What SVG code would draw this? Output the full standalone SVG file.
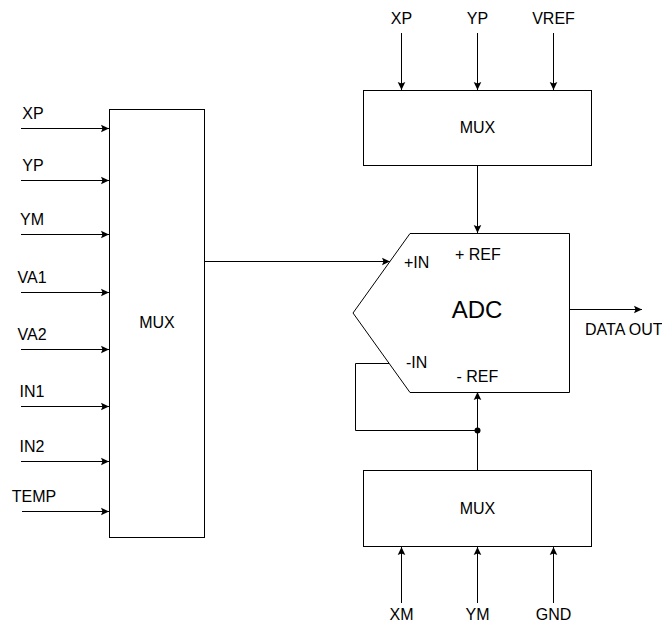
<svg xmlns="http://www.w3.org/2000/svg" width="662" height="626" viewBox="0 0 662 626">
<style>
.box{fill:#fff;stroke:#000;stroke-width:1}
.ln{fill:none;stroke:#000;stroke-width:1}
text{font-family:"Liberation Sans",Arial,sans-serif;font-size:16px;fill:#000}
.c{text-anchor:middle}
.big{font-size:24px}
</style>
<defs>
<marker id="ah" markerWidth="10" markerHeight="10" viewBox="-9 -5 10 10" refX="0" refY="0" orient="auto" markerUnits="userSpaceOnUse">
<path d="M0,0 L-8,-3.8 L-6.5,0 L-8,3.8 Z" fill="#000"/>
</marker>
</defs>
<g id="connectors">
<g class="ln" marker-end="url(#ah)">
<path d="M21,128.5 H109"/>
<path d="M21,180.5 H109"/>
<path d="M21,234.5 H109"/>
<path d="M21,292.5 H109"/>
<path d="M21,349.5 H109"/>
<path d="M21,406.5 H109"/>
<path d="M21,461.5 H109"/>
<path d="M22,511.5 H109"/>
<path d="M401.5,33 V90"/>
<path d="M477.5,33 V90"/>
<path d="M553.5,33 V90"/>
<path d="M477.5,166 V233"/>
<path d="M204,261.5 H390"/>
<path d="M569,309.5 H642"/>
<path d="M477.5,470.5 V392"/>
<path d="M401.5,603 V547"/>
<path d="M477.5,603 V547"/>
<path d="M553.5,603 V547"/>
</g>
<path class="ln" d="M389,363.5 H355.5 V430.5 H477.5"/>
<circle cx="477.5" cy="430.5" r="3" fill="#000"/>
</g>
<g id="mux-left">
<rect class="box" x="109.5" y="109.5" width="95" height="428"/>
<text class="c" x="157" y="328">MUX</text>
</g>
<g id="mux-top">
<rect class="box" x="363.5" y="90.5" width="228" height="75"/>
<text class="c" x="477.5" y="133">MUX</text>
</g>
<g id="mux-bottom">
<rect class="box" x="363.5" y="470.5" width="228" height="76"/>
<text class="c" x="477.5" y="513.5">MUX</text>
</g>
<g id="adc">
<polygon class="box" points="410,233.5 569.5,233.5 569.5,392.5 410,392.5 353,313"/>
<text class="c big" x="477" y="317.5">ADC</text>
<text x="404" y="268">+IN</text>
<text x="455" y="259.5">+ REF</text>
<text x="406" y="368">-IN</text>
<text x="456.5" y="382">- REF</text>
</g>
<g id="labels">
<text class="c" x="33" y="119">XP</text>
<text class="c" x="33" y="171">YP</text>
<text class="c" x="32" y="225">YM</text>
<text class="c" x="32" y="283">VA1</text>
<text class="c" x="32" y="340">VA2</text>
<text class="c" x="32" y="397">IN1</text>
<text class="c" x="32" y="452">IN2</text>
<text class="c" x="34" y="502">TEMP</text>
<text class="c" x="401.5" y="23.5">XP</text>
<text class="c" x="477.5" y="23.5">YP</text>
<text class="c" x="553.5" y="23.5">VREF</text>
<text class="c" x="401.5" y="620">XM</text>
<text class="c" x="477.5" y="620">YM</text>
<text class="c" x="553.5" y="620">GND</text>
<text x="585" y="335">DATA OUT</text>
</g>
</svg>
